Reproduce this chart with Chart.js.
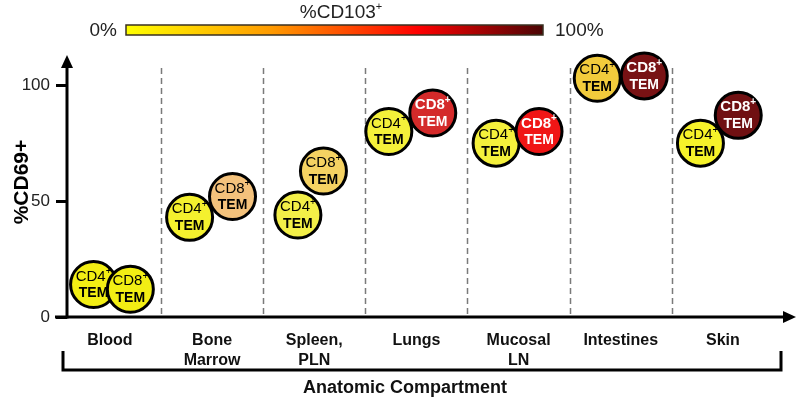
<!DOCTYPE html>
<html>
<head>
<meta charset="utf-8">
<title>%CD69+ of TEM cells by anatomic compartment</title>
<script src="https://cdn.jsdelivr.net/npm/chart.js@4.4.1/dist/chart.umd.min.js"></script>
<style>
  html, body { margin: 0; padding: 0; background: #fff; }
  #wrap { width: 800px; height: 403px; position: relative; }
</style>
</head>
<body>
<div id="wrap"><canvas id="chart"></canvas></div>
<script>
const compartments = [['Blood'], ['Bone', 'Marrow'], ['Spleen,', 'PLN'], ['Lungs'], ['Mucosal', 'LN'], ['Intestines'], ['Skin']];
const yTicks = [0, 50, 100];

// where each circle sits along the x axis, in compartment units (Blood spans 0..1)
const cd4Pos = [0.34, 1.28, 2.34, 3.23, 4.28, 5.27, 6.28];
const cd8Pos = [0.70, 1.70, 2.59, 3.66, 4.70, 5.73, 6.65];

// %CD69+
const cd4Values = [14, 43, 44, 80, 75, 103, 75];
const cd8Values = [12, 52, 63, 88, 80, 104, 87];

// fill = %CD103+ on the colour bar
const cd4Colors = ['#f2ee14', '#f4f02e', '#f3ef48', '#f4f03a', '#f4f03c', '#f2cb3c', '#f6f22a'];
const cd8Colors = ['#f2ee14', '#f4c27c', '#f5d262', '#d42a2a', '#f01616', '#781214', '#701012'];
const cd8TextColors = ['#000', '#000', '#000', '#fff', '#fff', '#fff', '#fff'];

const FONT = '"Liberation Sans", Arial, sans-serif';

function drawCellLabel(ctx, x, y, name, color, bold) {
  const w = bold ? 'bold ' : '';
  ctx.fillStyle = color;
  ctx.textBaseline = 'middle';
  ctx.font = w + '15px ' + FONT;
  const w1 = ctx.measureText(name).width;
  ctx.font = w + '10px ' + FONT;
  const w2 = ctx.measureText('+').width;
  const sx = x - (w1 + w2) / 2;
  ctx.textAlign = 'left';
  ctx.font = w + '15px ' + FONT;
  ctx.fillText(name, sx, y - 8);
  ctx.font = w + '10px ' + FONT;
  ctx.fillText('+', sx + w1, y - 13);
  ctx.font = 'bold 14px ' + FONT;
  ctx.textAlign = 'center';
  ctx.fillText('TEM', x, y + 9);
}

function arrowHead(ctx, x, y, dir) {
  ctx.beginPath();
  if (dir === 'right') {
    ctx.moveTo(x, y);
    ctx.lineTo(x - 13, y - 6);
    ctx.lineTo(x - 13, y + 6);
  } else {
    ctx.moveTo(x, y);
    ctx.lineTo(x - 6, y + 13);
    ctx.lineTo(x + 6, y + 13);
  }
  ctx.closePath();
  ctx.fill();
}

const decor = {
  id: 'decor',
  beforeDatasetsDraw(chart) {
    const ctx = chart.ctx;
    const xs = chart.scales.x, ys = chart.scales.y;
    const left = chart.chartArea.left;
    const y0 = ys.getPixelForValue(0);
    ctx.save();
    // separators between compartments
    ctx.strokeStyle = '#7a7a7a';
    ctx.lineWidth = 1.5;
    ctx.setLineDash([6, 4]);
    for (let k = 1; k < compartments.length; k++) {
      const px = Math.round(xs.getPixelForValue(k)) + 0.5;
      ctx.beginPath();
      ctx.moveTo(px, 68);
      ctx.lineTo(px, y0);
      ctx.stroke();
    }
    ctx.setLineDash([]);
    // axes with arrow heads
    ctx.strokeStyle = '#000';
    ctx.fillStyle = '#000';
    ctx.lineWidth = 3;
    ctx.beginPath();
    ctx.moveTo(55, y0);
    ctx.lineTo(784, y0);
    ctx.stroke();
    arrowHead(ctx, 796, y0, 'right');
    ctx.beginPath();
    ctx.moveTo(left, y0 + 1.5);
    ctx.lineTo(left, 66);
    ctx.stroke();
    arrowHead(ctx, left, 55, 'up');
    ctx.restore();
  },
  afterDatasetDraw(chart, args) {
    const ctx = chart.ctx;
    const isCD8 = args.index === 1;
    ctx.save();
    args.meta.data.forEach((pt, i) => {
      const color = isCD8 ? cd8TextColors[i] : '#000';
      drawCellLabel(ctx, pt.x, pt.y, isCD8 ? 'CD8' : 'CD4', color, color === '#fff');
    });
    ctx.restore();
  },
  afterDraw(chart) {
    const ctx = chart.ctx;
    ctx.save();
    // colour bar for %CD103+
    const bx1 = 126, bx2 = 543, by = 25, bh = 10;
    const grad = ctx.createLinearGradient(bx1, 0, bx2, 0);
    grad.addColorStop(0, '#ffff00');
    grad.addColorStop(0.35, '#ff9a00');
    grad.addColorStop(0.7, '#ff0000');
    grad.addColorStop(1, '#4a0505');
    ctx.fillStyle = grad;
    ctx.fillRect(bx1, by, bx2 - bx1, bh);
    ctx.strokeStyle = '#3a3020';
    ctx.lineWidth = 1.5;
    ctx.strokeRect(bx1, by, bx2 - bx1, bh);

    ctx.fillStyle = '#222';
    ctx.textBaseline = 'middle';
    ctx.font = '19px ' + FONT;
    ctx.textAlign = 'right';
    ctx.fillText('0%', 117, 31);
    ctx.textAlign = 'left';
    ctx.fillText('100%', 555, 31);
    const t = '%CD103';
    const tw = ctx.measureText(t).width;
    ctx.font = '11px ' + FONT;
    const pw = ctx.measureText('+').width;
    const tx = 341 - (tw + pw) / 2;
    ctx.font = '19px ' + FONT;
    ctx.fillText(t, tx, 13);
    ctx.font = '11px ' + FONT;
    ctx.fillText('+', tx + tw, 7);

    // y title
    ctx.save();
    ctx.translate(22, 182);
    ctx.rotate(-Math.PI / 2);
    ctx.textAlign = 'center';
    ctx.fillStyle = '#000';
    ctx.font = 'bold 21px ' + FONT;
    ctx.fillText('%CD69+', 0, 0);
    ctx.restore();

    // bracket under the compartments
    ctx.strokeStyle = '#000';
    ctx.lineWidth = 3;
    ctx.beginPath();
    ctx.moveTo(63, 351);
    ctx.lineTo(63, 370);
    ctx.lineTo(781, 370);
    ctx.lineTo(781, 351);
    ctx.stroke();
    ctx.fillStyle = '#111';
    ctx.textAlign = 'center';
    ctx.font = 'bold 18px ' + FONT;
    ctx.fillText('Anatomic Compartment', 405, 388);
    ctx.restore();
  }
};

new Chart(document.getElementById('chart'), {
  type: 'scatter',
  data: {
    datasets: [{
      label: 'CD4+ TEM',
      data: cd4Pos.map((x, i) => ({ x: x, y: cd4Values[i] })),
      pointBackgroundColor: cd4Colors,
      pointBorderColor: '#000',
      pointBorderWidth: 3,
      pointRadius: 23,
      pointHoverRadius: 23,
      clip: false,
      order: 1
    }, {
      label: 'CD8+ TEM',
      data: cd8Pos.map((x, i) => ({ x: x, y: cd8Values[i] })),
      pointBackgroundColor: cd8Colors,
      pointBorderColor: '#000',
      pointBorderWidth: 3,
      pointRadius: 23,
      pointHoverRadius: 23,
      clip: false,
      order: 0
    }]
  },
  options: {
    responsive: true,
    maintainAspectRatio: false,
    animation: false,
    events: [],
    layout: { padding: { top: 62, right: 13, left: 0, bottom: 0 } },
    plugins: {
      legend: { display: false },
      tooltip: { enabled: false }
    },
    scales: {
      x: {
        type: 'linear',
        min: 0.08,
        max: 7,
        border: { display: false },
        grid: { display: false },
        afterBuildTicks: s => { s.ticks = compartments.map((c, i) => ({ value: i + 0.5 })); },
        ticks: {
          callback: (v, i) => compartments[i],
          font: { family: FONT, size: 16, weight: 'bold', lineHeight: 1.25 },
          color: '#111',
          padding: 6,
          maxRotation: 0,
          autoSkip: false
        },
        afterFit: s => { s.height = 86; }
      },
      y: {
        type: 'linear',
        min: 0,
        max: 110,
        border: { display: false },
        grid: { drawOnChartArea: false, drawTicks: true, tickLength: 11, tickWidth: 3, tickColor: '#000' },
        afterBuildTicks: s => { s.ticks = yTicks.map(v => ({ value: v })); },
        ticks: { font: { family: FONT, size: 17 }, color: '#222', padding: 6 },
        afterFit: s => { s.width = 67; }
      }
    }
  },
  plugins: [decor]
});
</script>
</body>
</html>
